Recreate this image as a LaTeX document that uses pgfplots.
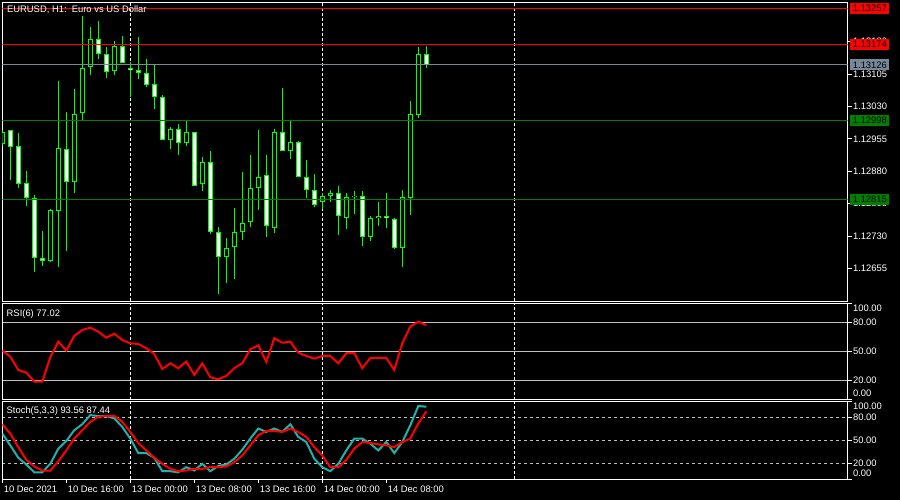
\documentclass[border=0pt]{standalone}
\usepackage{pgfplots}
\pgfplotsset{compat=1.18}
\usepackage{pgfplotstable}
\usepackage{fontspec}
\setmainfont{Liberation Sans}

\definecolor{mtlime}{RGB}{0,255,0}
\definecolor{mtgreen}{RGB}{0,128,0}
\definecolor{bidgray}{RGB}{119,136,153}
\definecolor{seagreen}{RGB}{32,178,170}
\definecolor{silver}{RGB}{192,192,192}

\newcommand{\mtfont}{\fontsize{4.7}{5}\selectfont}

% EURUSD H1, x = bar number (0 = 10 Dec 08:00)
\pgfplotstableread{
x o h l c
0 1.12943 1.12975 1.12938 1.12971
1 1.12975 1.12975 1.12860 1.12937
2 1.12938 1.12968 1.12842 1.12851
3 1.12852 1.12880 1.12800 1.12819
4 1.12819 1.12825 1.12648 1.12680
5 1.12679 1.12742 1.12661 1.12673
6 1.12673 1.12793 1.12671 1.12790
7 1.12789 1.13089 1.12659 1.12933
8 1.12931 1.13017 1.12696 1.12856
9 1.12856 1.13070 1.12830 1.13012
10 1.13014 1.13239 1.12998 1.13120
11 1.13122 1.13214 1.13103 1.13185
12 1.13185 1.13228 1.13139 1.13151
13 1.13151 1.13167 1.13096 1.13110
14 1.13113 1.13181 1.13103 1.13169
15 1.13169 1.13193 1.13130 1.13130
16 1.13118 1.13132 1.13052 1.13114
17 1.13114 1.13191 1.13093 1.13107
18 1.13107 1.13140 1.13076 1.13080
19 1.13081 1.13127 1.13025 1.13051
20 1.13051 1.13056 1.12952 1.12952
21 1.12952 1.12982 1.12932 1.12977
22 1.12977 1.12989 1.12918 1.12945
23 1.12945 1.12998 1.12939 1.12970
24 1.12970 1.12972 1.12847 1.12847
25 1.12850 1.12913 1.12835 1.12901
26 1.12901 1.12927 1.12736 1.12739
27 1.12739 1.12751 1.12597 1.12681
28 1.12681 1.12726 1.12622 1.12702
29 1.12704 1.12795 1.12631 1.12739
30 1.12739 1.12878 1.12722 1.12760
31 1.12762 1.12918 1.12752 1.12841
32 1.12841 1.12975 1.12791 1.12868
33 1.12871 1.12918 1.12729 1.12753
34 1.12750 1.12977 1.12738 1.12970
35 1.12970 1.13073 1.12928 1.12928
36 1.12928 1.12998 1.12909 1.12947
37 1.12947 1.12950 1.12868 1.12868
38 1.12868 1.12906 1.12819 1.12836
39 1.12836 1.12874 1.12798 1.12803
40 1.12808 1.12831 1.12794 1.12822
41 1.12822 1.12836 1.12810 1.12831
42 1.12831 1.12846 1.12733 1.12776
43 1.12773 1.12829 1.12747 1.12820
44 1.12820 1.12834 1.12782 1.12824
45 1.12824 1.12834 1.12708 1.12729
46 1.12729 1.12776 1.12719 1.12771
47 1.12773 1.12810 1.12754 1.12776
48 1.12776 1.12829 1.12749 1.12771
49 1.12769 1.12773 1.12701 1.12703
50 1.12703 1.12836 1.12659 1.12820
51 1.12819 1.13043 1.12779 1.13012
52 1.13011 1.13167 1.13004 1.13151
53 1.13151 1.13171 1.13120 1.13126
}\candles

% RSI(6), Stoch(5,3,3) main and signal
\pgfplotstableread{
x rsi k d
0 50.7 58.8 70.9
1 44.5 43.5 58.8
2 30.7 27.5 41.3
3 27.9 18.8 24.9
4 18.6 8.7 16.2
5 18.6 8.7 11.0
6 43.8 19.7 11.0
7 60.0 39.2 22.7
8 50.7 49.2 37.0
9 65.9 63.1 52.3
10 72.1 70.9 63.1
11 74.5 82.7 73.9
12 70.3 81.4 80.5
13 64.1 81.4 81.4
14 68.3 78.4 81.8
15 61.7 67.4 73.9
16 58.3 52.3 60.9
17 57.6 33.5 46.6
18 53.1 33.5 37.0
19 47.3 27.5 27.5
20 31.7 10.1 19.7
21 37.6 10.1 13.2
22 32.5 8.7 10.1
23 39.3 15.3 11.0
24 25.5 11.0 13.2
25 37.6 19.7 13.2
26 23.1 10.1 15.3
27 21.1 17.0 15.3
28 24.5 18.8 16.2
29 32.5 26.2 21.8
30 37.6 37.9 30.5
31 52.1 52.3 43.5
32 56.3 65.3 56.6
33 39.0 60.9 62.2
34 63.5 65.3 62.2
35 58.9 60.9 60.9
36 60.0 70.9 65.3
37 48.6 54.4 60.9
38 45.2 47.8 54.4
39 42.4 26.2 41.3
40 45.2 15.3 30.5
41 45.2 10.1 15.3
42 37.6 19.7 15.3
43 48.0 37.0 24.9
44 48.0 52.3 39.2
45 32.5 52.3 47.8
46 43.1 45.7 46.6
47 43.1 37.0 44.8
48 43.1 47.8 43.5
49 30.7 33.5 41.3
50 58.3 47.8 47.8
51 75.5 69.6 52.3
52 80.7 94.4 71.8
53 77.02 93.56 87.44
}\osc

\tikzset{
  pricebox/.style={anchor=west, inner sep=0pt, minimum width=19.5pt,
    minimum height=5.5pt, font=\mtfont, text=black, xshift=1.25pt},
  paneltext/.style={anchor=north west, inner sep=0pt, font=\mtfont, text=white},
  sidelabel/.style={anchor=west, inner sep=0.6pt, font=\mtfont, text=white, xshift=2pt},
}

\pgfplotsset{
  /pgf/number format/assume math mode=true,
  mtpanel/.style={
    scale only axis, width=422.6pt,
    xmin=0, xmax=105.65,
    axis line style={white, line width=0.5pt},
    tick style={white, line width=0.5pt},
    tick align=outside, major tick length=2pt,
    xtick=\empty,
    ytick pos=right, yticklabel pos=right,
    scaled y ticks=false,
    ticklabel style={font=\mtfont, text=white},
    yticklabel style={anchor=west, inner sep=0.6pt},
    extra x ticks={16,40,64},
    extra x tick labels={},
    extra x tick style={grid=major, major tick length=0pt,
      major grid style={white, line width=0.5pt, dash pattern=on 1.5pt off 1pt}},
  },
  % candle parts drawn as error bars (wick, body outline, body inside)
  candlepart/.style={draw=none, mark=none,
    error bars/.cd, y dir=plus, y explicit, error mark=none},
}

\begin{document}
\begin{tikzpicture}
\fill[black] (0,0) rectangle (450pt,250pt);

% price panel
\begin{axis}[mtpanel, at={(1.15pt,248.85pt)}, anchor=north west, height=149.35pt,
  ymin=1.12580, ymax=1.13271,
  ytick={1.12655,1.12730,1.12805,1.12880,1.12955,1.13030,1.13105,1.13180},
  yticklabel style={/pgf/number format/.cd, fixed, fixed zerofill, precision=5},
  after end axis/.code={
    \node[paneltext, xshift=2.2pt, yshift=-1.3pt] at (rel axis cs:0,1)
      {EURUSD, H1:\ \ Euro vs US Dollar};
    \node[pricebox, fill=red] at ({rel axis cs:1,0}|-{axis cs:0,1.13257}) {1.13257};
    \node[pricebox, fill=red] at ({rel axis cs:1,0}|-{axis cs:0,1.13174}) {1.13174};
    \node[pricebox, fill=bidgray] at ({rel axis cs:1,0}|-{axis cs:0,1.13126}) {1.13126};
    \node[pricebox, fill=mtgreen] at ({rel axis cs:1,0}|-{axis cs:0,1.12998}) {1.12998};
    \node[pricebox, fill=mtgreen] at ({rel axis cs:1,0}|-{axis cs:0,1.12815}) {1.12815};
  },
]
% wicks
\addplot[candlepart, error bar style={draw=mtlime, line width=0.5pt}]
  table[x=x, y=l, y error plus expr={\thisrow{h}-\thisrow{l}}] {\candles};
% body outline
\addplot[candlepart, error bar style={draw=mtlime, line width=2.5pt}]
  table[x=x, y expr={min(\thisrow{o},\thisrow{c})},
    y error plus expr={abs(\thisrow{c}-\thisrow{o})}] {\candles};
% inside of rising candles
\addplot[restrict expr to domain={\thisrow{c}-\thisrow{o}}{0:1}, candlepart,
  error bar style={draw=black, line width=1.5pt, shorten <=0.5pt, shorten >=0.5pt}]
  table[x=x, y=o, y error plus expr={\thisrow{c}-\thisrow{o}}] {\candles};
% inside of falling candles
\addplot[restrict expr to domain={\thisrow{o}-\thisrow{c}}{0:1}, candlepart,
  error bar style={draw=white, line width=1.5pt, shorten <=0.5pt, shorten >=0.5pt}]
  table[x=x, y=c, y error plus expr={\thisrow{o}-\thisrow{c}}] {\candles};
\addplot[red, line width=0.5pt] coordinates {(0,1.13257) (105.65,1.13257)};
\addplot[red, line width=0.5pt] coordinates {(0,1.13174) (105.65,1.13174)};
\addplot[bidgray, line width=0.5pt] coordinates {(0,1.13126) (105.65,1.13126)};
\addplot[mtgreen, line width=0.5pt] coordinates {(0,1.12998) (105.65,1.12998)};
\addplot[mtgreen, line width=0.5pt] coordinates {(0,1.12815) (105.65,1.12815)};
\end{axis}

% RSI panel
\begin{axis}[mtpanel, at={(1.15pt,98.5pt)}, anchor=north west, height=48.3pt,
  ymin=0, ymax=100, ytick={20,50,80}, ymajorgrids,
  major grid style={silver, line width=0.5pt},
  extra y ticks={0,100}, extra y tick labels={}, extra y tick style={grid=none},
  yticklabel style={/pgf/number format/.cd, fixed, fixed zerofill, precision=2},
  after end axis/.code={
    \node[paneltext, xshift=2pt, yshift=-3pt] at (rel axis cs:0,1) {RSI(6) 77.02};
    \node[sidelabel] at (rel axis cs:1,0.948) {100.00};
    \node[sidelabel] at (rel axis cs:1,0.065) {0.00};
  },
]
\addplot[red, line width=1pt] table[x=x, y=rsi] {\osc};
\end{axis}

% Stochastic panel
\begin{axis}[mtpanel, at={(1.15pt,49.15pt)}, anchor=north west, height=38.65pt,
  ymin=0, ymax=100, ytick={20,50,80}, ymajorgrids,
  major grid style={silver, line width=0.5pt, dash pattern=on 1.5pt off 1.5pt},
  extra y ticks={0,100}, extra y tick labels={}, extra y tick style={grid=none},
  yticklabel style={/pgf/number format/.cd, fixed, fixed zerofill, precision=2},
  xtick={0,8,16,24,32,40,48}, xtick pos=left,
  xticklabels={10 Dec 2021, 10 Dec 16:00, 13 Dec 00:00, 13 Dec 08:00,
    13 Dec 16:00, 14 Dec 00:00, 14 Dec 08:00},
  xticklabel style={anchor=north west, inner sep=0pt, xshift=0.6pt, yshift=-1.5pt},
  after end axis/.code={
    \node[paneltext, xshift=2pt, yshift=-2.3pt] at (rel axis cs:0,1) {Stoch(5,3,3) 93.56 87.44};
    \node[sidelabel] at (rel axis cs:1,0.944) {100.00};
    \node[sidelabel] at (rel axis cs:1,0.074) {0.00};
  },
]
\addplot[seagreen, line width=1pt] table[x=x, y=k] {\osc};
\addplot[red, line width=1pt] table[x=x, y=d] {\osc};
\end{axis}

\pgfresetboundingbox
\path[use as bounding box] (0,0) rectangle (450pt,250pt);
\end{tikzpicture}
\end{document}
